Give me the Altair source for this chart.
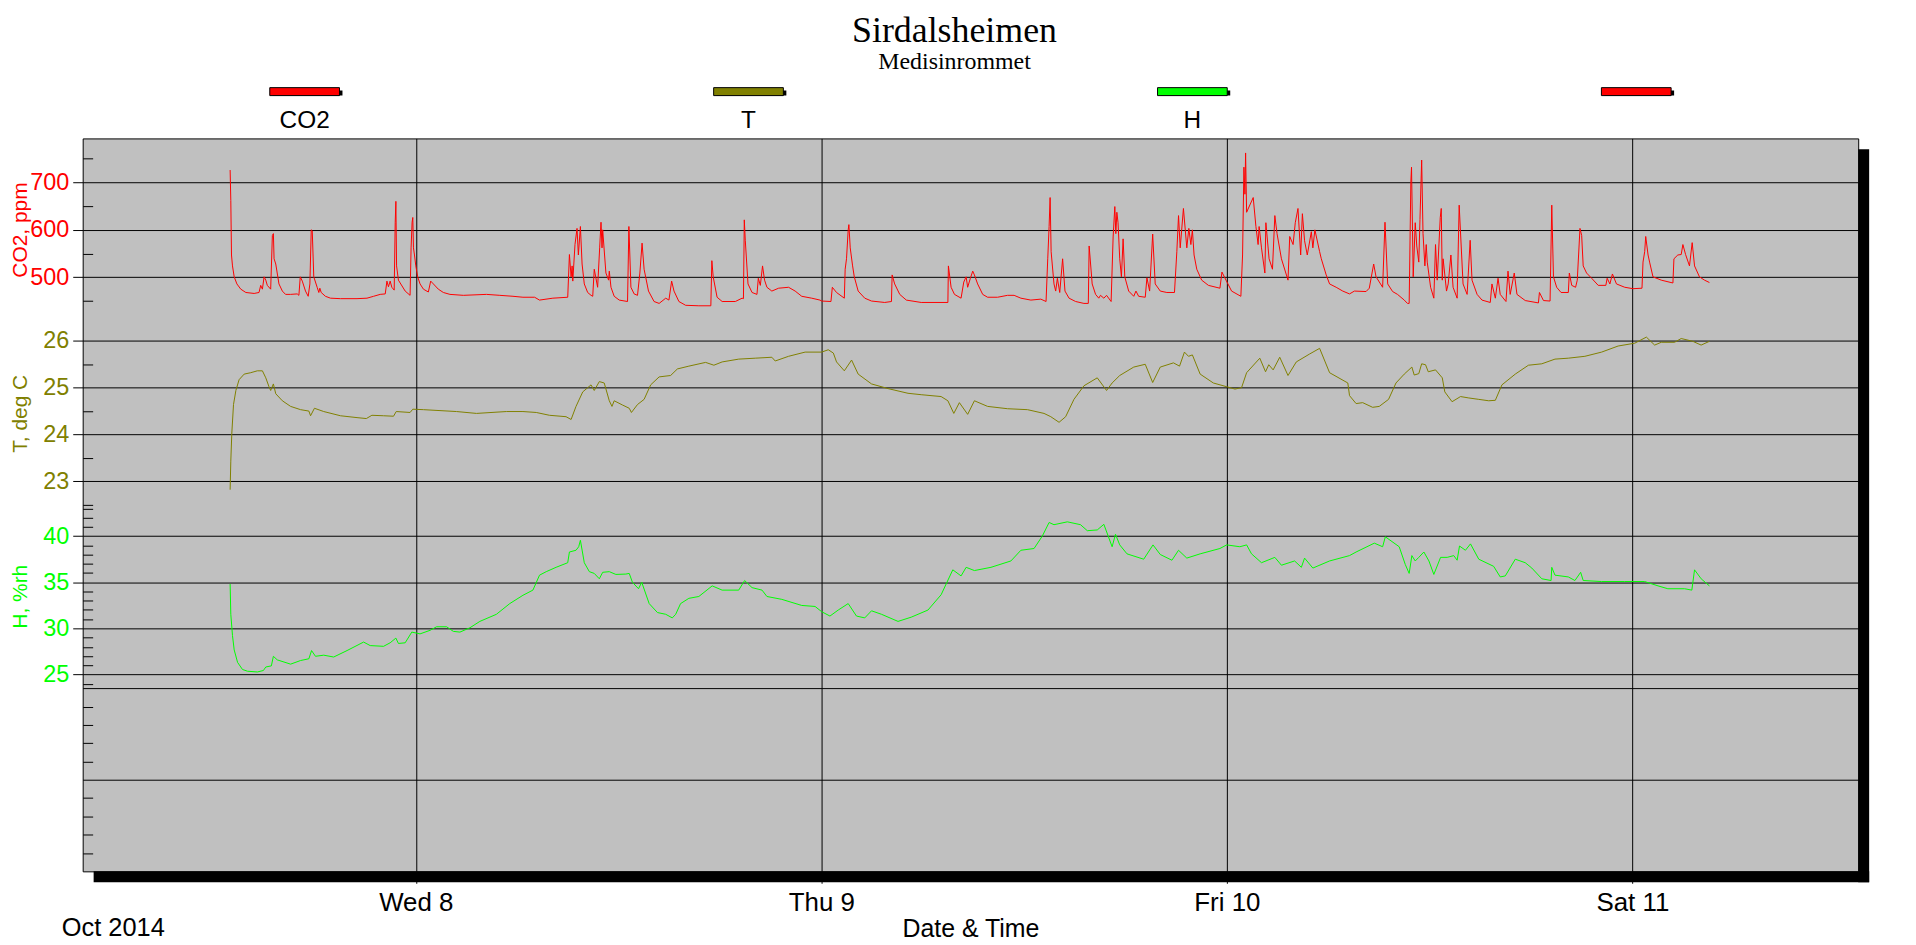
import altair as alt
import pandas as pd
import numpy as np

# ---------------- data (hours after 2014-10-07 00:00, value) ----------------
co2_h = [13.01, 13.05, 13.09, 13.15, 13.25, 13.41, 13.64, 13.94, 14.43, 14.72, 14.82, 14.92, 15.02, 15.12, 15.21, 15.41,
         15.51, 15.57, 15.61, 15.71, 15.90, 16.10, 16.29, 16.59, 16.98, 17.08, 17.16, 17.28, 17.47, 17.63, 17.73, 17.81,
         17.87, 17.96, 18.16, 18.26, 18.32, 18.40, 18.65, 18.95, 19.54, 20.52, 21.11, 21.50, 21.89, 22.19, 22.29, 22.38,
         22.48, 22.58, 22.72, 22.78, 22.82, 22.86, 22.97, 23.37, 23.66, 23.72, 23.78, 23.82, 23.86, 23.92, 24.00, 24.11,
         24.25, 24.45, 24.74, 24.88, 25.04, 25.33, 25.63, 26.02, 26.81, 28.18, 28.97, 29.75, 30.34,
         31.03, 31.32, 32.11, 32.99, 33.09, 33.19, 33.25, 33.29, 33.42, 33.54, 33.62, 33.74, 33.84, 33.97, 34.17, 34.37,
         34.47, 34.56, 34.76, 34.88, 34.96, 35.02, 35.06, 35.25, 35.41, 35.45, 35.55, 35.74, 36.04, 36.53, 36.61, 36.73,
         36.92, 37.12, 37.26, 37.39, 37.51, 37.77, 38.10, 38.40, 38.79, 38.98, 39.14, 39.28, 39.57, 39.97, 40.75, 41.46,
         41.52, 41.60, 41.83, 42.13, 42.91, 43.31, 43.39, 43.44, 43.50, 43.66, 43.90, 44.19, 44.27, 44.39, 44.52, 44.64,
         44.78, 45.07, 45.47, 46.06, 46.45, 46.84, 47.43, 47.92,
         48.02, 48.57, 48.65, 48.90, 49.36, 49.41, 49.49, 49.59, 49.63, 49.71, 49.85, 49.95, 50.18, 50.57, 50.97, 51.75,
         52.15, 52.19, 52.34, 52.64, 53.03, 53.91, 55.49, 55.52, 55.68, 55.88, 56.27, 56.43, 56.57, 56.66, 56.82, 56.96,
         57.06, 57.25, 57.55, 57.84, 58.43, 59.02, 59.41, 59.81, 60.40, 60.99, 61.30, 61.40, 61.48, 61.54, 61.60, 61.77,
         61.87, 61.97, 62.11, 62.28, 62.42, 62.66, 63.05, 63.54, 63.80, 63.85, 64.03, 64.23, 64.42, 64.52, 64.72, 64.88,
         65.15, 65.27, 65.37, 65.43, 65.49, 65.56, 65.66,
         65.76, 65.86, 65.96, 66.19, 66.49, 66.62, 66.78, 67.17, 67.27, 67.43, 67.61, 67.76, 68.06, 68.45, 68.90, 69.04,
         69.14, 69.24, 69.43, 69.63, 69.75, 69.87, 69.96, 70.06, 70.22, 70.51, 70.91, 71.59, 71.71, 71.95, 72.28, 72.83,
         72.93, 73.01, 73.07, 73.11, 73.17, 73.56, 73.72, 73.85, 73.91, 74.05, 74.25, 74.31, 74.50, 74.70, 74.84, 74.97,
         75.23, 75.62, 75.72, 75.92, 76.05, 76.21, 76.37, 76.47, 76.60, 76.76, 77.00, 77.09, 77.21, 77.49, 77.59, 77.88,
         78.08, 78.47, 78.86, 79.26, 79.55, 80.24, 80.43, 80.69, 80.83, 81.22, 81.36, 81.52, 81.81, 82.10, 82.50, 82.69,
         82.79, 82.89, 82.93, 83.03, 83.15, 83.24, 83.36,
         83.43, 83.53, 83.61, 83.72, 83.80, 83.86, 84.06, 84.25, 84.35, 84.45, 84.63, 84.69, 84.75, 84.80, 85.00, 85.10,
         85.26, 85.39, 85.63, 85.75, 85.98, 86.22, 86.40, 86.51, 86.81, 87.10, 87.59, 87.69, 87.89, 88.05, 88.18, 88.52,
         88.64, 88.77, 89.01, 89.17, 89.66, 90.44, 90.50, 90.74, 91.13, 91.23, 91.33, 91.52, 91.78, 92.21, 92.27, 92.41,
         92.64, 92.74, 92.90, 93.00, 93.09, 93.29, 93.59, 93.98, 94.43, 94.51, 94.67, 94.82, 95.06, 95.55, 96.04, 96.57,
         96.63, 96.73, 96.79, 96.93, 97.02, 97.22, 97.71, 98.40, 98.46, 98.69, 98.89, 98.99, 99.15, 99.38, 99.54, 99.68,
         99.97, 100.27, 100.56]
co2_v = [726, 662, 547, 524, 501, 486, 475, 468, 466, 468, 483, 475, 501, 494, 483, 475,
         588, 592, 539, 528, 486, 471, 464, 464, 465, 462, 501, 492, 471, 460, 486, 600,
         598, 501, 479, 468, 477, 468, 460, 456, 455, 455, 456, 460, 464, 465, 492, 480,
         492, 479, 473, 616, 660, 524, 494, 471, 462, 562, 616, 626, 562, 547, 524, 501,
         486, 475, 469, 492, 486, 475, 468, 464, 462, 464, 462, 460, 458,
         458, 452, 456, 458, 548, 501, 524, 492, 569, 603, 547, 607, 528, 486, 468, 462,
         460, 517, 479, 562, 616, 562, 600, 509, 494, 513, 479, 460, 452, 449, 607, 479,
         465, 462, 509, 572, 517, 471, 449, 445, 456, 452, 492, 471, 449, 441, 440, 440,
         535, 501, 458, 449, 449, 456, 455, 621, 577, 486, 468, 464, 498, 483, 524, 494,
         479, 471, 477, 479, 471, 460, 456, 452,
         450, 449, 479, 468, 456, 517, 539, 600, 611, 562, 524, 501, 471, 456, 450, 447,
         449, 505, 486, 464, 452, 447, 447, 524, 479, 464, 456, 490, 501, 479, 498, 513,
         505, 486, 464, 458, 458, 462, 462, 456, 452, 454, 449, 539, 607, 668, 554, 486,
         471, 498, 468, 539, 471, 456, 449, 445, 445, 566, 486, 464, 456, 462, 456, 462,
         449, 585, 649, 592, 637, 615, 539,
         501, 581, 501, 471, 460, 471, 460, 458, 499, 471, 591, 486, 471, 468, 468, 554,
         630, 562, 645, 562, 603, 569, 600, 547, 517, 494, 483, 477, 511, 494, 471, 460,
         547, 732, 675, 762, 637, 668, 607, 569, 607, 562, 509, 615, 539, 517, 630, 592,
         539, 494, 586, 569, 615, 645, 547, 634, 577, 547, 596, 562, 600, 554, 539, 505,
         486, 479, 471, 465, 471, 470, 477, 528, 501, 479, 616, 486, 470, 464, 452, 445,
         445, 701, 732, 501, 615, 566, 532,
         622, 747, 592, 524, 569, 532, 479, 456, 569, 494, 626, 645, 494, 539, 471, 486,
         547, 479, 456, 652, 486, 464, 578, 494, 464, 452, 447, 486, 456, 498, 464, 449,
         513, 464, 509, 464, 451, 446, 468, 451, 450, 652, 501, 479, 468, 468, 509, 483,
         479, 494, 603, 588, 524, 509, 498, 483, 483, 498, 486, 507, 486, 479, 476, 477,
         532, 554, 586, 547, 532, 501, 494, 488, 539, 547, 548, 569, 548, 524, 573, 524,
         501, 494, 489]

t_h = [13.01, 13.05, 13.11, 13.21, 13.35, 13.54, 13.84, 14.23, 14.62, 14.92, 15.12, 15.31, 15.41, 15.57, 15.71, 16.10,
       16.59, 17.18, 17.67, 17.77, 18.00, 18.55, 19.54, 20.52, 21.07, 21.40, 22.09, 22.68, 22.84, 23.66, 23.82, 24.45,
       26.41, 27.59, 29.36, 30.34, 31.13, 31.91, 32.89, 33.19, 33.48, 33.88, 34.37, 34.56, 34.86, 35.15, 35.45, 35.61,
       35.74, 36.23, 36.63, 36.76, 37.12, 37.51, 37.90, 38.40, 39.08, 39.48, 40.16, 41.15, 41.64, 42.13, 43.11, 44.09,
       45.07, 45.27, 46.06, 47.04, 48.02, 48.41, 48.71, 48.90, 49.36, 49.79, 50.18, 50.97, 51.95, 53.13, 53.91, 55.09,
       55.49, 55.84, 56.17, 56.66, 57.06, 57.84, 59.02, 60.20, 61.18, 61.58, 62.07, 62.46, 62.95, 63.54, 64.33, 64.88,
       65.21, 65.66, 66.49, 67.17, 67.61, 68.06, 68.84, 69.20, 69.49, 69.73, 69.96, 70.42, 71.20, 71.99, 72.48, 72.87,
       73.17, 73.95, 74.29, 74.48, 74.74, 75.13, 75.62, 76.11, 76.90, 77.49, 78.08, 79.16, 79.26, 79.65, 80.04, 80.63,
       81.02, 81.57, 82.01, 82.50, 82.95, 83.09, 83.36, 83.53, 83.76, 83.92, 84.35, 84.75, 84.90, 85.33, 85.83, 86.32,
       86.91, 87.50, 87.89, 88.28, 89.07, 89.85, 90.64, 91.42, 92.21, 93.19, 94.18, 95.16, 96.14, 96.83, 97.32, 97.71,
       98.50, 98.89, 99.58, 100.07, 100.56]
t_v = [22.82, 23.43, 24.03, 24.64, 24.94, 25.17, 25.29, 25.32, 25.36, 25.36, 25.21, 25.02, 24.94, 25.08, 24.87, 24.72,
       24.60, 24.53, 24.50, 24.40, 24.56, 24.49, 24.40, 24.36, 24.34, 24.41, 24.40, 24.39, 24.49, 24.47, 24.54, 24.53,
       24.49, 24.45, 24.49, 24.49, 24.47, 24.41, 24.38, 24.32, 24.60, 24.91, 25.06, 24.94, 25.13, 25.10, 24.72, 24.60,
       24.72, 24.63, 24.56, 24.47, 24.64, 24.75, 25.06, 25.23, 25.26, 25.40, 25.46, 25.54, 25.48, 25.55, 25.61, 25.63,
       25.65, 25.57, 25.67, 25.76, 25.76, 25.81, 25.74, 25.55, 25.36, 25.59, 25.29, 25.08, 24.98, 24.88, 24.85, 24.81,
       24.72, 24.45, 24.68, 24.43, 24.72, 24.60, 24.55, 24.53, 24.45, 24.38, 24.26, 24.38, 24.75, 25.04, 25.21, 24.94,
       25.10, 25.26, 25.44, 25.50, 25.11, 25.44, 25.53, 25.46, 25.76, 25.67, 25.70, 25.29, 25.10, 25.02, 24.97, 25.00,
       25.32, 25.63, 25.34, 25.49, 25.38, 25.65, 25.26, 25.55, 25.72, 25.84, 25.32, 25.10, 24.83, 24.66, 24.68, 24.58,
       24.60, 24.75, 25.10, 25.29, 25.44, 25.27, 25.30, 25.51, 25.49, 25.34, 25.38, 25.21, 24.91, 24.70, 24.81, 24.78,
       24.75, 24.72, 24.73, 25.06, 25.29, 25.48, 25.51, 25.61, 25.63, 25.67, 25.76, 25.89, 25.95, 26.08, 25.91, 25.97,
       25.97, 26.05, 25.99, 25.91, 25.99]

rh_h = [13.01, 13.05, 13.15, 13.25, 13.45, 13.74, 14.04, 14.62, 14.98, 15.12, 15.45, 15.57, 15.80, 16.59, 17.18, 17.67,
        17.83, 18.06, 18.55, 19.14, 19.93, 20.91, 21.30, 22.09, 22.48, 22.82, 22.97, 23.37, 23.76, 24.25, 24.84, 25.23,
        25.82, 26.22, 26.61, 27.20, 27.79, 28.77, 29.56, 30.34, 30.93, 31.32, 31.72, 32.30, 32.99, 33.09, 33.48, 33.64,
        33.74, 33.97, 34.27, 34.56, 34.86, 35.06, 35.45, 35.84, 36.43, 36.63, 36.82, 37.18, 37.37, 37.81, 38.30, 38.79,
        39.18, 39.38, 39.67, 40.16, 40.75, 41.54, 42.13, 43.11, 43.46, 43.90, 44.49, 44.78, 45.66, 46.84, 47.63, 48.02,
        48.51, 49.00, 49.59, 50.08, 50.57, 50.97, 51.56, 52.54, 53.32, 54.31, 55.09, 55.78, 56.27, 56.57, 57.06, 58.04,
        59.22, 59.81, 60.59, 61.08, 61.48, 61.77, 62.56, 63.34, 63.74, 64.33, 64.72, 65.21, 65.41, 65.66, 66.09, 67.08,
        67.63, 68.06, 68.75, 69.14, 69.63, 70.42, 71.59, 71.99, 72.77, 73.17, 73.46, 74.05, 74.84, 75.23, 76.01, 76.41,
        76.60, 77.09, 78.08, 79.26, 79.65, 80.73, 81.22, 81.38, 82.20, 82.56, 82.79, 82.95, 83.15, 83.36, 83.66, 83.96,
        84.25, 84.65, 85.04, 85.43, 85.63, 85.77, 86.12, 86.42, 86.91, 87.79, 88.18, 88.48, 89.07, 89.66, 90.05, 90.64,
        91.19, 91.23, 91.42, 92.21, 92.60, 92.94, 93.09, 94.18, 95.55, 96.73, 97.52, 98.10, 99.09, 99.52, 99.68, 100.07,
        100.56]
rh_v = [34.80, 31.52, 29.21, 27.66, 26.31, 25.54, 25.35, 25.27, 25.43, 25.81, 25.93, 26.97, 26.58, 26.12, 26.51, 26.70,
        27.59, 26.97, 27.09, 26.89, 27.59, 28.51, 28.13, 28.05, 28.43, 28.94, 28.36, 28.43, 29.59, 29.40, 29.78, 30.17,
        30.17, 29.67, 29.59, 30.06, 30.75, 31.52, 32.68, 33.58, 34.14, 35.76, 36.14, 36.61, 37.11, 38.27, 38.46, 38.84,
        39.54, 37.11, 36.14, 35.95, 35.37, 36.07, 36.14, 35.84, 35.88, 35.95, 34.99, 34.29, 34.99, 32.68, 31.71, 31.52,
        31.13, 31.52, 32.68, 33.25, 33.45, 34.60, 34.14, 34.14, 35.18, 34.41, 34.14, 33.45, 33.14, 32.48, 32.37, 31.80,
        31.33, 31.98, 32.68, 31.33, 31.13, 31.90, 31.52, 30.75, 31.21, 31.98, 33.64, 36.34, 35.68, 36.61, 36.26, 36.61,
        37.30, 38.46, 38.65, 40.00, 41.47, 41.23, 41.54, 41.23, 40.58, 40.66, 41.27, 38.84, 40.19, 39.04, 38.07, 37.49,
        39.04, 38.00, 37.38, 38.46, 37.61, 38.07, 38.65, 39.04, 38.84, 39.04, 38.07, 37.11, 37.69, 36.84, 37.30, 36.61,
        37.61, 36.53, 37.30, 37.88, 38.27, 39.23, 38.84, 39.92, 38.84, 36.92, 35.95, 37.88, 37.30, 37.69, 38.27, 37.30,
        35.84, 37.69, 37.69, 37.88, 37.38, 38.92, 38.46, 39.15, 37.49, 36.72, 35.57, 35.68, 37.49, 37.11, 36.53, 35.37,
        35.18, 36.61, 35.76, 35.57, 35.18, 36.07, 35.18, 35.07, 35.07, 35.07, 34.60, 34.29, 34.29, 34.14, 36.34, 35.37,
        34.60]

# axis tick values
day_ticks = ["2014-10-08", "2014-10-09", "2014-10-10", "2014-10-11"]
co2_major = [500, 600, 700]
co2_minor = [450, 550, 650, 750]
t_major = [23, 24, 25, 26]
t_minor = [22.5, 23.5, 24.5, 25.5]
rh_major = [25, 30, 35, 40]
rh_minor = [24, 26, 27, 28, 29, 31, 32, 33, 34, 36, 37, 38, 39, 41, 42, 43]
aux_major = [1, 2]
aux_minor = [0.2, 0.4, 0.6, 0.8, 1.2, 1.4, 1.6, 1.8]

legend_names = ["CO2", "T", "H", " "]
legend_colors = ["#FF0000", "#808000", "#00FF00", "#FF0000"]

RED, OLIVE, LIME = "#FF0000", "#808000", "#00FF00"
SANS = "Liberation Sans"
SERIF = "Liberation Serif"
X_LABEL_FS = 26
Y_LABEL_FS = 23.5
TITLE_FS = 25

W, H = 1783, 736
base = pd.Timestamp("2014-10-07")


def to_time(hours):
    return base + pd.to_timedelta(np.array(hours), unit="h")


co2_df = pd.DataFrame({"t": to_time(co2_h), "v": co2_v})
t_df = pd.DataFrame({"t": to_time(t_h), "v": t_v})
rh_df = pd.DataFrame({"t": to_time(rh_h), "v": rh_v})
day_df = pd.DataFrame({"t": pd.to_datetime(day_ticks)})

x_scale = alt.Scale(domain=[alt.DateTime(year=2014, month=10, date=7, hours=4, minutes=17),
                            alt.DateTime(year=2014, month=10, date=11, hours=13, minutes=22)])

x_axis = alt.Axis(values=[alt.DateTime(year=2014, month=10, date=d) for d in [8, 9, 10, 11]],
                  format="%a %-d", grid=True, gridColor="black", gridOpacity=1, gridWidth=1,
                  tickSize=12, tickColor="black", tickWidth=1, domain=False,
                  labelFont=SANS, labelFontSize=X_LABEL_FS, labelColor="black", labelPadding=6,
                  title="Date & Time", titleFont=SANS, titleFontSize=TITLE_FS, titleFontWeight="normal",
                  titleColor="black", titleY=65, titleBaseline="alphabetic")

# invisible layer that owns the time axis (so its grid spans the full plot height)
x_axis_layer = alt.Chart(day_df).mark_tick(opacity=0).encode(
    x=alt.X("t:T", scale=x_scale, axis=x_axis))


def series_layers(df, color, domain, rng, majors, minors, title, title_y):
    sc = alt.Scale(domain=domain, range=rng, nice=False, zero=False)
    major_axis = alt.Axis(values=majors, orient="left", grid=True, gridColor="black", gridOpacity=1,
                          gridWidth=1, tickSize=10, tickColor="black", tickWidth=1, domain=False,
                          labelFont=SANS, labelFontSize=Y_LABEL_FS, labelColor=color, labelPadding=4,
                          title=title, titleFont=SANS, titleFontSize=21, titleFontWeight="normal",
                          titleColor=color, titleAngle=270, titleX=-56, titleY=title_y,
                          titleAlign="center", titleBaseline="alphabetic")
    minor_axis = alt.Axis(values=minors, orient="left", grid=False, tickSize=10, tickColor="black",
                          tickWidth=1, domain=False, labels=False, offset=-10)
    line = alt.Chart(df).mark_line(color=color, strokeWidth=1).encode(
        x=alt.X("t:T", scale=x_scale, axis=None),
        y=alt.Y("v:Q", scale=sc, axis=major_axis),
    )
    minor = alt.Chart(pd.DataFrame({"m": minors})).mark_tick(opacity=0).encode(
        y=alt.Y("m:Q", scale=sc, axis=minor_axis, title=None),
    )
    return [line, minor]


co2_layers = series_layers(co2_df, RED, [450, 750], [163.3, 20.3], co2_major, co2_minor,
                           "CO2, ppm", 91.5)
t_layers = series_layers(t_df, OLIVE, [22.5, 26], [367.8, 203.3], t_major, t_minor,
                         "T, deg C", 276)
rh_layers = series_layers(rh_df, LIME, [23.5, 43], [552.2, 371.5], rh_major, rh_minor,
                          "H, %rh", 459.7)

aux_scale = alt.Scale(domain=[0, 2], range=[736, 552.2], nice=False, zero=False)
aux_major_layer = alt.Chart(pd.DataFrame({"m": aux_major})).mark_tick(opacity=0).encode(
    y=alt.Y("m:Q", scale=aux_scale, title=None,
            axis=alt.Axis(values=aux_major, orient="left", grid=True, gridColor="black", gridOpacity=1,
                          gridWidth=1, ticks=False, labels=False, domain=False)))
aux_minor_layer = alt.Chart(pd.DataFrame({"m": aux_minor})).mark_tick(opacity=0).encode(
    y=alt.Y("m:Q", scale=aux_scale, title=None,
            axis=alt.Axis(values=aux_minor, orient="left", grid=False, tickSize=10, tickColor="black",
                          tickWidth=1, labels=False, domain=False, offset=-10)))

# drop shadow of the plot frame
frame_df = pd.DataFrame({"k": [0]})
shadow_right = alt.Chart(frame_df).mark_rect(color="black").encode(
    x=alt.value(W), x2=alt.value(W + 11), y=alt.value(11), y2=alt.value(H + 11))
shadow_bottom = alt.Chart(frame_df).mark_rect(color="black").encode(
    x=alt.value(11), x2=alt.value(W + 11), y=alt.value(H), y2=alt.value(H + 11))

# legend row above the plot
leg_df = pd.DataFrame({"name": legend_names, "col": legend_colors})
band = alt.Scale(type="band", domain=legend_names, range=[0, W], paddingInner=0, paddingOuter=0)
leg_shadow = alt.Chart(leg_df).mark_bar(width=70, color="black", xOffset=3, yOffset=3).encode(
    x=alt.X("name:N", scale=band, axis=None, sort=legend_names),
    y=alt.value(-51), y2=alt.value(-43))
leg_bar = alt.Chart(leg_df).mark_bar(width=70, stroke="black", strokeWidth=1).encode(
    x=alt.X("name:N", scale=band, axis=None, sort=legend_names),
    y=alt.value(-51), y2=alt.value(-43),
    color=alt.Color("col:N", scale=None))
leg_text = alt.Chart(leg_df).mark_text(font=SANS, fontSize=24.5, color="black", baseline="alphabetic").encode(
    x=alt.X("name:N", scale=band, axis=None, sort=legend_names, bandPosition=0.5),
    y=alt.value(-10), text="name:N")

month_df = pd.DataFrame({"label": ["Oct 2014"]})
month_text = alt.Chart(month_df).mark_text(font=SANS, fontSize=25.5, color="black", align="left",
                                           baseline="alphabetic").encode(
    x=alt.value(-21), y=alt.value(H + 65), text="label:N")

chart = alt.layer(
    shadow_right, shadow_bottom, x_axis_layer,
    *co2_layers, *t_layers, *rh_layers, aux_major_layer, aux_minor_layer,
    leg_shadow, leg_bar, leg_text, month_text,
).resolve_scale(
    x="independent", y="independent", color="independent"
).properties(
    width=W, height=H,
    autosize=alt.AutoSizeParams(type="none"),
    padding={"left": 75, "top": 129, "right": 50, "bottom": 70},
    title=alt.TitleParams(text="Sirdalsheimen", subtitle="Medisinrommet", font=SERIF, fontSize=36,
                          fontWeight="normal", color="black", subtitleFont=SERIF, subtitleFontSize=24,
                          subtitleColor="black", anchor="middle", frame="group", dx=-16, offset=12,
                          subtitlePadding=0),
).configure_view(
    fill="#C0C0C0", stroke="black", strokeWidth=1
)

chart.save("out.html", embed_options={"renderer": "svg", "actions": False})
